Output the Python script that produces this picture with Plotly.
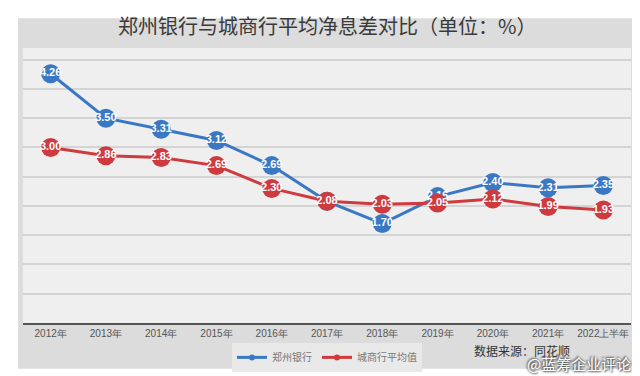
import plotly.graph_objects as go

categories = ["2012年", "2013年", "2014年", "2015年", "2016年", "2017年",
              "2018年", "2019年", "2020年", "2021年", "2022上半年"]
zz_bank = [4.26, 3.50, 3.31, 3.12, 2.69, 2.08, 1.70, 2.16, 2.40, 2.31, 2.35]
city_avg = [3.00, 2.86, 2.83, 2.69, 2.30, 2.08, 2.03, 2.05, 2.12, 1.99, 1.93]
series_names = ["郑州银行", "城商行平均值"]
title_text = "郑州银行与城商行平均净息差对比（单位：%）"
source_text = "数据来源：同花顺"
watermark_text = "@蓝筹企业评论"

BLUE = "#3a78c4"
RED = "#cf3a3f"
FONT = "Noto Sans CJK SC"

fig = go.Figure()
x_idx = list(range(len(categories)))

for vals, color, name in [(zz_bank, BLUE, series_names[0]), (city_avg, RED, series_names[1])]:
    fig.add_trace(go.Scatter(
        x=x_idx, y=vals, mode="lines+markers+text",
        line=dict(color=color, width=3),
        marker=dict(color=color, size=19),
        text=[f"{v:.2f}" for v in vals], textposition="middle center",
        textfont=dict(color="white", size=11, family="Liberation Sans", weight="bold"),
        showlegend=False, cliponaxis=False, name=name, hoverinfo="skip",
    ))

# Legend entries (small markers)
for color, name in [(BLUE, series_names[0]), (RED, series_names[1])]:
    fig.add_trace(go.Scatter(
        x=[None], y=[None], mode="lines+markers",
        line=dict(color=color, width=3), marker=dict(color=color, size=6),
        name=name, showlegend=True, hoverinfo="skip",
    ))

fig.update_layout(
    width=640, height=376,
    margin=dict(l=15, r=17, t=40, b=59),
    paper_bgcolor="white",
    plot_bgcolor="#eeeeee",
    hovermode=False,
    font=dict(family=FONT, color="#555555"),
    showlegend=True,
    legend=dict(orientation="h", x=0.5, xanchor="center", y=-0.125, yanchor="middle",
                bgcolor="#e9e9e9", font=dict(size=10, color="#777777", family=FONT),
                itemwidth=30, tracegroupgap=0, traceorder="normal"),
    xaxis=dict(range=[-0.5, len(categories) - 0.5], tickmode="array", tickvals=x_idx,
               ticktext=categories, showgrid=False, zeroline=False,
               showline=True, linecolor="#555555", linewidth=2,
               tickfont=dict(size=10, color="#555555", family="Liberation Sans"),
               ticks="", fixedrange=True, showspikes=False),
    yaxis=dict(range=[0, 4.7], dtick=0.5, tick0=0, showticklabels=False,
               showgrid=True, gridcolor="#d4d4d4", gridwidth=1.5,
               zeroline=False, showline=False, fixedrange=True, showspikes=False),
    shapes=[
        dict(type="rect", xref="paper", yref="paper", x0=-0.0082, x1=1.0033,
             y0=-0.166, y1=1.108, layer="below", line=dict(width=0), fillcolor="#dcdcdc"),
        dict(type="rect", xref="paper", yref="paper", x0=0, x1=1,
             y0=0, y1=1, layer="below", line=dict(width=0), fillcolor="#efefef"),
    ],
    annotations=[
        dict(text=title_text, xref="paper", yref="paper", x=0.5, y=1.0, yshift=23,
             showarrow=False, font=dict(size=20, color="#3a3a3a", family=FONT),
             xanchor="center", yanchor="middle"),
        dict(text=source_text, xref="paper", yref="paper", x=0.82, y=-0.1,
             showarrow=False, font=dict(size=12, color="#333333", family=FONT),
             xanchor="center", yanchor="middle"),
        dict(text=watermark_text, xref="paper", yref="paper", x=1.004, y=-0.148,
             showarrow=False, font=dict(size=15, color="white", family=FONT,
                                        shadow="1px 1px 2px #444, -1px -1px 2px #444"),
             xanchor="right", yanchor="middle"),
    ],
)

fig.write_html("out.html")
